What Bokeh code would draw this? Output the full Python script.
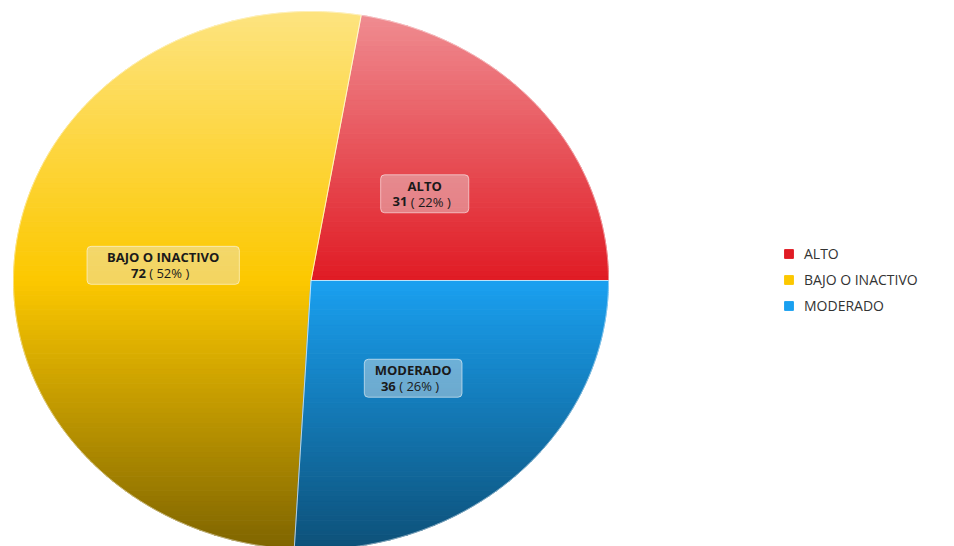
import numpy as np
from bokeh.plotting import figure
from bokeh.models import ColumnDataSource, Legend, LegendItem, Range1d
from bokeh.core.properties import value
from bokeh.embed import file_html
from bokeh.resources import INLINE

# ---- data ----
categories = ["ALTO", "BAJO O INACTIVO", "MODERADO"]
counts = [31, 72, 36]
percent_labels = ["22%", "52%", "26%"]
base_colors = ["#e01b24", "#fcc800", "#1aa0f0"]

# ---- layout (pixels) ----
W, H = 954, 546
CX, CY = 310.5, 280.0
RX, RY = 297.5, 269.0

p = figure(width=W, height=H, output_backend="svg", toolbar_location=None,
           x_range=Range1d(-CX / RX, (W - CX) / RX),
           y_range=Range1d(-(H - CY) / RY, CY / RY),
           x_axis_type=None, y_axis_type=None,
           min_border=0, outline_line_color=None)
p.grid.visible = False
p.background_fill_color = "white"


def hex_rgb(h):
    h = h.lstrip("#")
    return tuple(int(h[i:i + 2], 16) for i in (0, 2, 4))


def shade(h, y):
    r, g, b = hex_rgb(h)
    if y >= 0:
        f = 0.5 * y
        c = (r + (255 - r) * f, g + (255 - g) * f, b + (255 - b) * f)
    else:
        f = 1 - 0.5 * (-y)
        c = (r * f, g * f, b * f)
    return "#%02x%02x%02x" % tuple(int(round(max(0, min(255, v)))) for v in c)


def clip_half(pts, keep, inter):
    out = []
    n = len(pts)
    for i in range(n):
        cur = pts[i]
        prev = pts[i - 1]
        cin, pin = keep(cur), keep(prev)
        if cin:
            if not pin:
                out.append(inter(prev, cur))
            out.append(cur)
        elif pin:
            out.append(inter(prev, cur))
    return out


def ix(a, b, yv):
    t = (yv - a[1]) / (b[1] - a[1])
    return (a[0] + t * (b[0] - a[0]), yv)


def clip_band(poly, ylo, yhi):
    pts = clip_half(poly, lambda q: q[1] >= ylo, lambda a, b: ix(a, b, ylo))
    if len(pts) < 3:
        return []
    pts = clip_half(pts, lambda q: q[1] <= yhi, lambda a, b: ix(a, b, yhi))
    return pts if len(pts) >= 3 else []


total = sum(counts)
fracs = np.array(counts) / total
ends = np.cumsum(fracs) * 2 * np.pi
starts = np.concatenate([[0.0], ends[:-1]])

slice_polys = []
for a0, a1 in zip(starts, ends):
    t = np.linspace(a0, a1, 200)
    pts = [(0.0, 0.0)] + [(float(np.cos(v)), float(np.sin(v))) for v in t]
    slice_polys.append(pts)

# gradient bands
NB = 110
edges = np.linspace(-1.0, 1.0, NB + 1)
bx, by, bc = [], [], []
for poly, col in zip(slice_polys, base_colors):
    for k in range(NB):
        ylo, yhi = edges[k], edges[k + 1]
        cp = clip_band(poly, ylo, yhi)
        if not cp:
            continue
        bx.append([q[0] for q in cp])
        by.append([q[1] for q in cp])
        bc.append(shade(col, 0.5 * (ylo + yhi)))

p.patches(xs="xs", ys="ys", source=ColumnDataSource(dict(xs=bx, ys=by, c=bc)),
          fill_color="c", line_color="c", line_width=1)

# slice separators
p.patches(xs=[[q[0] for q in poly] for poly in slice_polys],
          ys=[[q[1] for q in poly] for poly in slice_polys],
          fill_alpha=0, line_color="white", line_alpha=0.45, line_width=1)

# labels
mids = (starts + ends) / 2
lx = 0.5 * np.cos(mids)
ly = 0.5 * np.sin(mids)
FS = 13


def est_w(s, bold=False):
    w = 0
    for ch in s:
        if ch.isdigit():
            w += 0.58
        elif ch == " ":
            w += 0.27
        elif ch in "()":
            w += 0.31
        elif ch == "%":
            w += 0.86
        else:
            w += 0.70
    return w * FS * (1.04 if bold else 1.0)


nums = [str(c) for c in counts]
rests = ["\u00a0( %s )" % pct for pct in percent_labels]
num_w = [est_w(n, True) for n in nums]
rest_w = [est_w(r) for r in rests]
line2_w = [a + b for a, b in zip(num_w, rest_w)]
name_w = [est_w(c, True) for c in categories]
box_w = [max(a, b) + 22 for a, b in zip(name_w, line2_w)]
split = [-tw / 2 + nw for tw, nw in zip(line2_w, num_w)]

src = ColumnDataSource(dict(x=lx, y=ly, name=categories, num=nums, rest=rests,
                            bw=box_w, split=split))
p.rect(x="x", y="y", width="bw", height=38, width_units="screen", height_units="screen",
       source=src, fill_color="#e6e6e6", fill_alpha=0.42, line_color="white",
       line_alpha=0.55, line_width=1, border_radius=4)
font = value("Open Sans")
p.text(x="x", y="y", text="name", source=src, text_font=font, text_font_size="%dpx" % FS,
       text_font_style="bold", text_align="center", text_baseline="middle",
       y_offset=-8, text_color="#1a1a1a")
p.text(x="x", y="y", text="num", source=src, text_font=font, text_font_size="%dpx" % FS,
       text_font_style="bold", text_align="right", text_baseline="middle",
       x_offset="split", y_offset=8, text_color="#1a1a1a")
p.text(x="x", y="y", text="rest", source=src, text_font=font, text_font_size="%dpx" % FS,
       text_align="left", text_baseline="middle",
       x_offset="split", y_offset=8, text_color="#1a1a1a")

# legend (proxy renderers: a single non-drawn box each, used only for the legend swatch)
items = []
for name, col in zip(categories, base_colors):
    r = p.rect(x=[np.nan], y=[np.nan], width=0.01, height=0.01,
               fill_color=col, line_color=col)
    items.append(LegendItem(label=name, renderers=[r], index=0))
legend = Legend(items=items, location=(783, 231), padding=0, margin=0,
                glyph_width=11, glyph_height=11, label_height=20, spacing=6,
                label_standoff=10, border_line_color=None, background_fill_alpha=0,
                label_text_font="Open Sans", label_text_font_size="14px",
                label_text_color="#333333")
p.add_layout(legend)

open("out.html", "w").write(file_html(p, INLINE))
